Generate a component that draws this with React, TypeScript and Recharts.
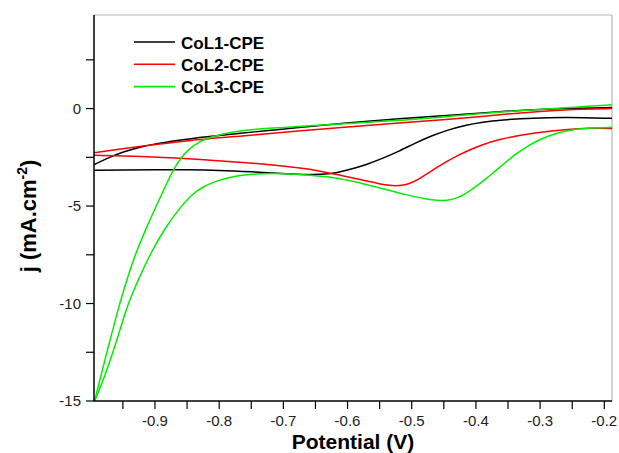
import { LineChart, Line, XAxis, YAxis, ReferenceLine } from 'recharts';

// potential (V) vs current density (mA/cm2), each CV loop split in its two branches
const COL1_LOWER = [
  [-0.995, -3.17], [-0.95, -3.15], [-0.9, -3.13], [-0.85, -3.14], [-0.8, -3.17],
  [-0.75, -3.24], [-0.7, -3.33], [-0.66, -3.4], [-0.63, -3.38], [-0.6, -3.16],
  [-0.57, -2.87], [-0.545, -2.55], [-0.52, -2.19], [-0.495, -1.78], [-0.47, -1.4],
  [-0.44, -1.06], [-0.415, -0.84], [-0.39, -0.69], [-0.36, -0.58], [-0.31, -0.48],
  [-0.26, -0.45], [-0.188, -0.5],
];
const COL1_UPPER = [
  [-0.995, -2.88], [-0.975, -2.56], [-0.95, -2.22], [-0.92, -1.95], [-0.9, -1.8],
  [-0.85, -1.56], [-0.8, -1.38], [-0.77, -1.27], [-0.72, -1.12], [-0.69, -1.01],
  [-0.6, -0.73], [-0.52, -0.52], [-0.44, -0.35], [-0.36, -0.15], [-0.3, -0.04],
  [-0.25, 0.02], [-0.188, 0.05],
];

const COL2_LOWER = [
  [-0.995, -2.4], [-0.92, -2.45], [-0.85, -2.57], [-0.77, -2.74], [-0.72, -2.88],
  [-0.675, -3.04], [-0.645, -3.18], [-0.6, -3.5], [-0.57, -3.72], [-0.55, -3.86],
  [-0.535, -3.95], [-0.52, -3.97], [-0.505, -3.88], [-0.49, -3.64], [-0.475, -3.33],
  [-0.46, -3.0], [-0.445, -2.7], [-0.43, -2.43], [-0.41, -2.12], [-0.394, -1.9],
  [-0.363, -1.56], [-0.31, -1.25], [-0.26, -1.06], [-0.22, -1.0], [-0.188, -1.02],
];
const COL2_UPPER = [
  [-0.995, -2.27], [-0.96, -2.1], [-0.92, -1.93], [-0.85, -1.64], [-0.77, -1.42],
  [-0.68, -1.16], [-0.6, -0.95], [-0.52, -0.74], [-0.44, -0.55], [-0.4, -0.43],
  [-0.36, -0.3], [-0.29, -0.12], [-0.25, -0.05], [-0.188, 0.0],
];

const COL3_LOWER = [
  [-0.994, -15], [-0.979, -13.8], [-0.966, -12.55], [-0.954, -11.3], [-0.942, -10],
  [-0.925, -8.7], [-0.908, -7.5], [-0.885, -6.14], [-0.859, -5.0], [-0.843, -4.42],
  [-0.825, -4.0], [-0.805, -3.72], [-0.784, -3.53], [-0.76, -3.4], [-0.737, -3.34],
  [-0.7, -3.33], [-0.675, -3.38], [-0.628, -3.48], [-0.586, -3.76], [-0.55, -4.08],
  [-0.504, -4.46], [-0.478, -4.64], [-0.46, -4.72], [-0.445, -4.72], [-0.43, -4.6],
  [-0.415, -4.35], [-0.4, -4.0], [-0.384, -3.6], [-0.368, -3.15], [-0.353, -2.74],
  [-0.338, -2.33], [-0.322, -1.98], [-0.306, -1.68], [-0.29, -1.43], [-0.259, -1.12],
  [-0.228, -0.99], [-0.188, -0.96],
];
const COL3_UPPER = [
  [-0.994, -15], [-0.985, -13.8], [-0.975, -12.5], [-0.965, -11.25], [-0.955, -10],
  [-0.943, -8.7], [-0.931, -7.5], [-0.914, -6.15], [-0.898, -5.0], [-0.882, -3.85],
  [-0.87, -3.05], [-0.859, -2.5], [-0.847, -2.07], [-0.831, -1.7], [-0.815, -1.47],
  [-0.795, -1.3], [-0.768, -1.14], [-0.722, -1.0], [-0.675, -0.92], [-0.6, -0.76],
  [-0.52, -0.62], [-0.44, -0.39], [-0.36, -0.17], [-0.29, -0.02], [-0.25, 0.06],
  [-0.188, 0.2],
];

const X_TICKS = [-0.95, -0.9, -0.85, -0.8, -0.75, -0.7, -0.65, -0.6, -0.55, -0.5, -0.45, -0.4, -0.35, -0.3, -0.25, -0.2];
const Y_TICKS = [-15, -12.5, -10, -7.5, -5, -2.5, 0, 2.5];

const SERIES = [
  { name: 'CoL1-CPE', color: '#000000', lower: COL1_LOWER, upper: COL1_UPPER },
  { name: 'CoL2-CPE', color: '#ff0000', lower: COL2_LOWER, upper: COL2_UPPER },
  { name: 'CoL3-CPE', color: '#00ee00', lower: COL3_LOWER, upper: COL3_UPPER },
];

const FONT = "Arial, 'Liberation Sans', sans-serif";

const toPoints = (arr: number[][]) => arr.map(([x, y]) => ({ x, y }));

const fmtX = (v: number) => (Math.abs(v * 10 - Math.round(v * 10)) < 1e-6 ? v.toFixed(1) : '');
const fmtY = (v: number) => (v % 5 === 0 ? String(v) : '');

export default function App() {
  return (
    <div style={{ position: 'absolute', left: 0, top: 0, width: 619, height: 453, background: '#fff' }}>
      <LineChart width={619} height={453} margin={{ top: 15, right: 7, left: 0, bottom: 0 }}>
        <XAxis
          type="number"
          dataKey="x"
          domain={[-0.995, -0.188]}
          allowDataOverflow
          ticks={X_TICKS}
          interval={0}
          tickFormatter={fmtX}
          height={52}
          tickSize={8}
          tickMargin={6}
          stroke="#000"
          axisLine={{ stroke: '#000', strokeWidth: 1.5 }}
          tickLine={{ stroke: '#000', strokeWidth: 1.2 }}
          tick={{ fill: '#222', fontSize: 15, fontFamily: FONT }}
        />
        <YAxis
          type="number"
          dataKey="y"
          domain={[-15, 4.8]}
          allowDataOverflow
          ticks={Y_TICKS}
          interval={0}
          tickFormatter={fmtY}
          width={94}
          tickSize={8}
          tickMargin={5}
          stroke="#000"
          axisLine={{ stroke: '#000', strokeWidth: 1.5 }}
          tickLine={{ stroke: '#000', strokeWidth: 1.2 }}
          tick={{ fill: '#222', fontSize: 15, fontFamily: FONT }}
        />
        <ReferenceLine y={4.8} stroke="#b5b5b5" strokeWidth={1.2} />
        <ReferenceLine x={-0.188} stroke="#b5b5b5" strokeWidth={1.2} />
        {SERIES.flatMap((s) => [
          <Line
            key={s.name + '-lower'}
            data={toPoints(s.lower)}
            dataKey="y"
            type="basis"
            stroke={s.color}
            strokeWidth={1.5}
            dot={false}
            isAnimationActive={false}
          />,
          <Line
            key={s.name + '-upper'}
            data={toPoints(s.upper)}
            dataKey="y"
            type="basis"
            stroke={s.color}
            strokeWidth={1.5}
            dot={false}
            isAnimationActive={false}
          />,
        ])}
      </LineChart>
      <svg
        width={619}
        height={453}
        style={{ position: 'absolute', left: 0, top: 0, pointerEvents: 'none' }}
      >
        {SERIES.map((s, i) => (
          <g key={s.name}>
            <line x1={134} x2={175} y1={42 + i * 22.3} y2={42 + i * 22.3} stroke={s.color} strokeWidth={1.6} />
            <text x={181} y={48.5 + i * 22.3} fontSize={17} fontWeight="bold" fontFamily={FONT} fill="#000">
              {s.name}
            </text>
          </g>
        ))}
        <text x={353} y={449} textAnchor="middle" fontSize={21} fontWeight="bold" fontFamily={FONT} fill="#000">
          Potential (V)
        </text>
        <text
          x={36}
          y={216}
          transform="rotate(-90 36 216)"
          textAnchor="middle"
          fontSize={22}
          fontWeight="bold"
          fontFamily={FONT}
          fill="#000"
        >
          j (mA.cm<tspan dy={-9} fontSize={14}>-2</tspan>
          <tspan dy={9}>)</tspan>
        </text>
      </svg>
    </div>
  );
}
